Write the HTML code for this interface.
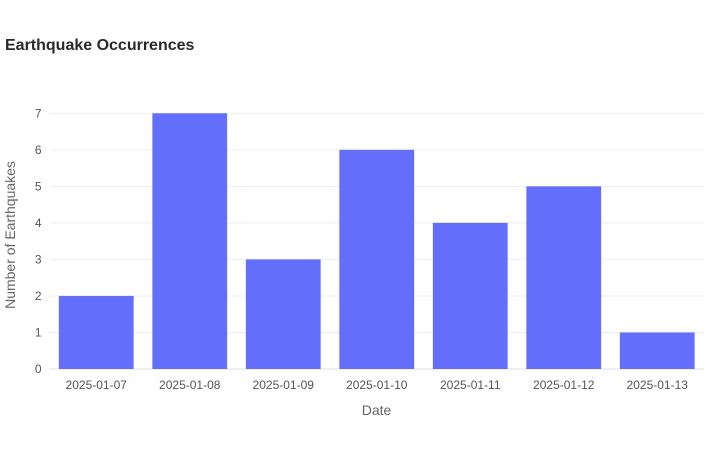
<!DOCTYPE html>
<html><head><meta charset="utf-8"><style>
body{margin:0;background:#fff;}
svg{font-family:"Liberation Sans",Arial,sans-serif;display:block}
</style></head><body>
<svg id="chart" width="704" height="450" viewBox="0 0 704 450">
<text x="5" y="50" font-size="16" font-weight="bold" fill="#2a2a2a">Earthquake Occurrences</text>
<g id="grid"></g>
<g id="bars"></g>
<g id="yticks"></g>
<g id="xticks"></g>
<text x="376.5" y="415" font-size="14" fill="#666" text-anchor="middle">Date</text>
<text transform="translate(15,235) rotate(-90)" font-size="14" fill="#666" text-anchor="middle">Number of Earthquakes</text>
</svg>
<script>
const categories=["2025-01-07","2025-01-08","2025-01-09","2025-01-10","2025-01-11","2025-01-12","2025-01-13"];
const counts=[2,7,3,6,4,5,1];
const yTicks=[0,1,2,3,4,5,6,7];
const NS="http://www.w3.org/2000/svg";
const L=49.5,R=704,T=100.5,B=369;
const yMax=Math.max(...counts)*1.05;
const band=(R-L)/categories.length;
const x=i=>L+band*i+band/2;
const y=v=>B-(v/yMax)*(B-T);
function mk(t,a,p){const e=document.createElementNS(NS,t);for(const k in a)e.setAttribute(k,a[k]);p.appendChild(e);return e;}
const grid=document.getElementById('grid'),bars=document.getElementById('bars'),yt=document.getElementById('yticks'),xt=document.getElementById('xticks');
yTicks.forEach(v=>{
  const l=mk('line',{x1:L,x2:R,y1:y(v),y2:y(v),stroke:v===0?'#e0e0e0':'#eeeeee','stroke-width':1},grid);
  
  
  const t=mk('text',{x:L-8,y:y(v)+4,'font-size':12,fill:'#555','text-anchor':'end'},yt);
  t.textContent=v;
  
  
});
categories.forEach((c,i)=>{
  const w=band*0.8;
  const r=mk('rect',{x:x(i)-w/2,y:y(counts[i]),width:w,height:B-y(counts[i]),fill:'#636efa'},bars);
  
  
  const t=mk('text',{x:x(i),y:B+20,'font-size':12,fill:'#555','text-anchor':'middle'},xt);
  t.textContent=c;
  
  
});
</script>
</body></html>
